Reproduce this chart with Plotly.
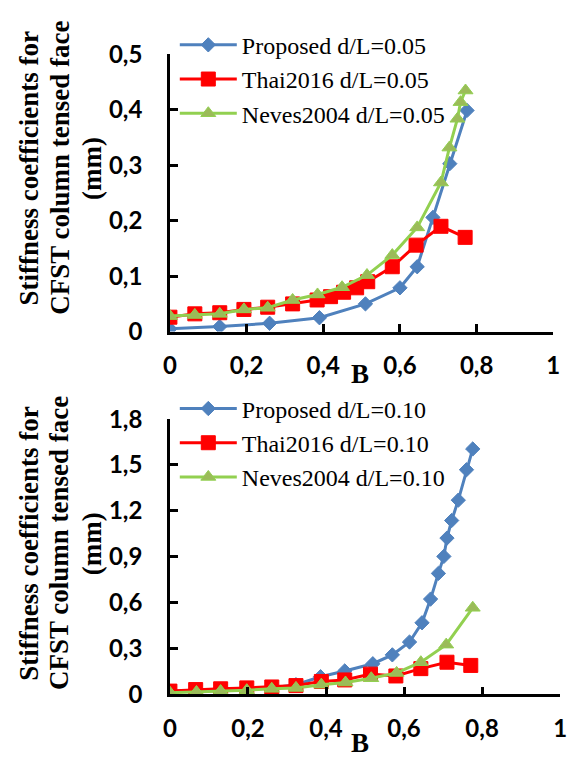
import plotly.graph_objects as go

# ---------------- data: top panel (d/L = 0.05) ----------------
b_prop_05 = [0.0, 0.13, 0.26, 0.39, 0.51, 0.60, 0.645, 0.686, 0.73, 0.775]
k_prop_05 = [0.005, 0.009, 0.015, 0.025, 0.050, 0.079, 0.117, 0.206, 0.303, 0.399]

b_thai_05 = [0.0, 0.065, 0.13, 0.193, 0.255, 0.32, 0.384, 0.419, 0.453, 0.487, 0.516, 0.58, 0.642, 0.707, 0.77]
k_thai_05 = [0.026, 0.032, 0.034, 0.040, 0.044, 0.050, 0.057, 0.063, 0.071, 0.079, 0.090, 0.117, 0.156, 0.190, 0.170]

b_nev_05 = [0.0, 0.065, 0.13, 0.193, 0.255, 0.32, 0.385, 0.449, 0.514, 0.58, 0.645, 0.707, 0.729, 0.75, 0.758, 0.771]
k_nev_05 = [0.028, 0.030, 0.032, 0.040, 0.043, 0.057, 0.067, 0.080, 0.102, 0.138, 0.188, 0.269, 0.332, 0.384, 0.414, 0.435]

# ---------------- data: bottom panel (d/L = 0.10) ----------------
b_prop_10 = [0.0, 0.064, 0.128, 0.195, 0.259, 0.323, 0.386, 0.448, 0.52, 0.57, 0.614, 0.646,
             0.668, 0.688, 0.702, 0.71, 0.722, 0.739, 0.76, 0.776]
k_prop_10 = [0.021, 0.021, 0.027, 0.036, 0.042, 0.063, 0.115, 0.153, 0.200, 0.258, 0.342, 0.468,
             0.623, 0.791, 0.902, 1.022, 1.137, 1.270, 1.469, 1.605]

b_thai_10 = [0.0, 0.066, 0.13, 0.197, 0.261, 0.323, 0.388, 0.448, 0.514, 0.579, 0.643, 0.71, 0.771]
k_thai_10 = [0.021, 0.031, 0.036, 0.042, 0.048, 0.057, 0.084, 0.094, 0.132, 0.120, 0.168, 0.210, 0.189]

b_nev_10 = [0.0, 0.068, 0.13, 0.197, 0.261, 0.323, 0.388, 0.45, 0.516, 0.581, 0.643, 0.708, 0.776]
k_nev_10 = [0.011, 0.015, 0.021, 0.027, 0.036, 0.042, 0.063, 0.077, 0.105, 0.140, 0.210, 0.325, 0.566]

x_ticks = [0, 0.2, 0.4, 0.6, 0.8, 1]
y_title_lines = ["Stiffness coefficients for", "CFST column tensed face", "(mm)"]

BLUE = "#4F81BD"
RED = "#FF0000"
GREEN_L = "#92D050"
GREEN_M = "#9BBB59"

W, H = 573, 766


def px_x(p):
    return p / W


def px_y(p):
    return 1 - p / H


fig = go.Figure()


def add_series(x, y, name, color, symbol, size, xa, ya, legend, mcolor=None, mline=None):
    fig.add_trace(go.Scatter(
        x=x, y=y, name=name, mode="lines+markers",
        line=dict(color=color, width=3),
        marker=dict(symbol=symbol, size=size, color=mcolor or color,
                    line=dict(color=mline or color, width=1)),
        xaxis=xa, yaxis=ya, legend=legend, legendgroup=name,
    ))


add_series(b_prop_05, k_prop_05, "Proposed d/L=0.05", BLUE, "diamond", 11, "x", "y", "legend")
add_series(b_thai_05, k_thai_05, "Thai2016 d/L=0.05", RED, "square", 14, "x", "y", "legend")
add_series(b_nev_05, k_nev_05, "Neves2004 d/L=0.05", GREEN_L, "triangle-up", 13, "x", "y", "legend",
           mcolor=GREEN_M, mline=GREEN_L)

add_series(b_prop_10, k_prop_10, "Proposed d/L=0.10", BLUE, "diamond", 11, "x2", "y2", "legend2")
add_series(b_thai_10, k_thai_10, "Thai2016 d/L=0.10", RED, "square", 14, "x2", "y2", "legend2")
add_series(b_nev_10, k_nev_10, "Neves2004 d/L=0.10", GREEN_L, "triangle-up", 13, "x2", "y2", "legend2",
           mcolor=GREEN_M, mline=GREEN_L)

tickfont = dict(family="Lato", size=24, color="black", weight="bold")

common_x = dict(range=[0, 1], tickvals=x_ticks, showgrid=False, zeroline=False,
                showline=True, linecolor="black", linewidth=2.5,
                ticks="inside", ticklen=8, tickwidth=2.5, tickcolor="black",
                tickfont=tickfont, ticklabelstandoff=11)
common_y = dict(showgrid=False, zeroline=False, showline=True, linecolor="black", linewidth=2.5,
                ticks="inside", ticklen=8, tickwidth=2.5, tickcolor="black",
                tickfont=tickfont, ticklabelstandoff=20)

legfont = dict(family="Liberation Serif", size=24, color="black")

fig.update_layout(
    width=W, height=H,
    margin=dict(l=0, r=0, t=0, b=0),
    paper_bgcolor="white", plot_bgcolor="white",
    separators=",.",
    xaxis=dict(domain=[px_x(167), px_x(560)], anchor="y", **common_x),
    yaxis=dict(domain=[px_y(328), px_y(40)], anchor="x", range=[0, 0.5], dtick=0.1, **common_y),
    xaxis2=dict(domain=[px_x(167), px_x(567)], anchor="y2", **common_x),
    yaxis2=dict(domain=[px_y(705), px_y(419)], anchor="x2", range=[0, 1.8], dtick=0.3, **common_y),
    legend=dict(x=px_x(172), y=px_y(7), xanchor="left", yanchor="top", font=legfont,
                bgcolor="rgba(0,0,0,0)", tracegroupgap=0, itemwidth=57),
    legend2=dict(x=px_x(172), y=px_y(385), xanchor="left", yanchor="top", font=legfont,
                 bgcolor="rgba(0,0,0,0)", tracegroupgap=0, itemwidth=57),
    showlegend=True,
)

titlefont = dict(family="Liberation Serif", size=27, color="black", weight="bold")
line_x = [23, 54, 87]
for cy in (158, 548):
    for txt, lx in zip(y_title_lines, line_x):
        fig.add_annotation(text=txt, x=px_x(lx), y=px_y(cy), xref="paper", yref="paper",
                           xanchor="center", yanchor="middle", textangle=-90, showarrow=False,
                           font=titlefont)
for cy in (372, 756):
    fig.add_annotation(text="B", x=px_x(362), y=px_y(cy), xref="paper", yref="paper",
                       xanchor="center", yanchor="middle", showarrow=False,
                       font=dict(family="Liberation Serif", size=27, color="black", weight="bold"))

fig.write_html("out.html")
